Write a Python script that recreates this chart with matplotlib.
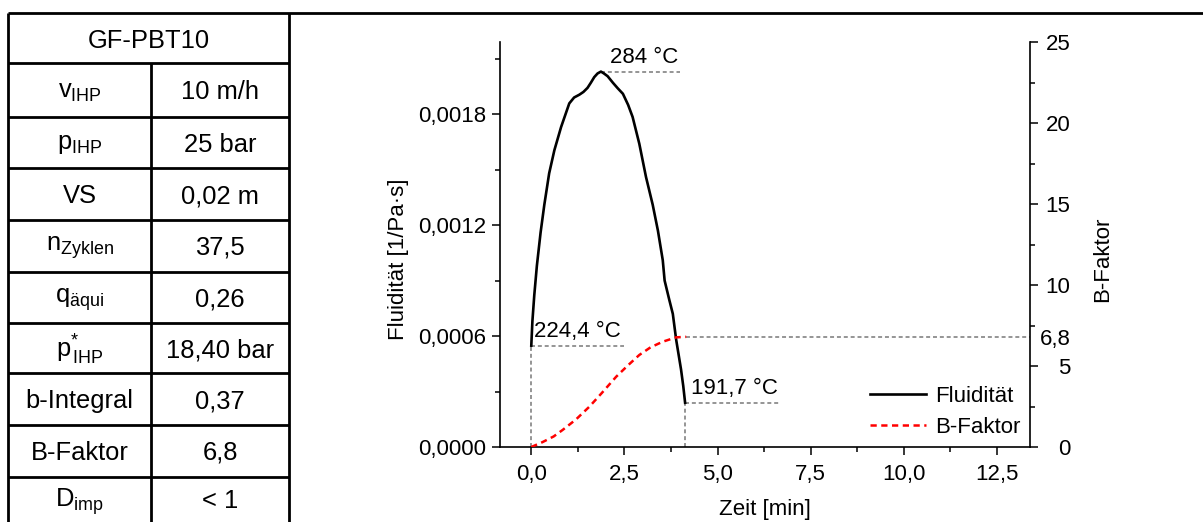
import matplotlib
matplotlib.use("Agg")
import matplotlib.pyplot as plt
from matplotlib.lines import Line2D
from matplotlib.ticker import MultipleLocator, FuncFormatter, FixedLocator

plt.rcParams["font.family"] = ["Liberation Sans", "DejaVu Sans"]
plt.rcParams["mathtext.fontset"] = "custom"
plt.rcParams["mathtext.rm"] = "Liberation Sans"
plt.rcParams["mathtext.it"] = "Liberation Sans"

# ---- process parameters (left table) ----
title = "GF-PBT10"
param_names = [r"v$_{\mathrm{IHP}}$", r"p$_{\mathrm{IHP}}$", "VS", r"n$_{\mathrm{Zyklen}}$",
               r"q$_{\mathrm{äqui}}$", r"p$^{*}_{\mathrm{\,IHP}}$", "b-Integral", "B-Faktor",
               r"D$_{\mathrm{imp}}$"]
param_values = ["10 m/h", "25 bar", "0,02 m", "37,5", "0,26", "18,40 bar", "0,37", "6,8", "< 1"]

# ---- fluidity over time ----
fluid_t = [0.0, 0.03, 0.08, 0.15, 0.25, 0.35, 0.48, 0.62, 0.80, 1.02, 1.15, 1.29, 1.40,
           1.51, 1.60, 1.69, 1.78, 1.87, 1.95, 2.05, 2.19, 2.32, 2.46, 2.60, 2.72, 2.90,
           3.08, 3.26, 3.40, 3.53, 3.58, 3.70, 3.80, 3.89, 4.02, 4.08, 4.13]
fluid_F = [0.000548, 0.00068, 0.00082, 0.00098, 0.00116, 0.00131, 0.00148, 0.001605,
           0.00173, 0.001858, 0.00189, 0.001905, 0.00192, 0.001942, 0.00197, 0.00200,
           0.00202, 0.00203, 0.00202, 0.002005, 0.00197, 0.00194, 0.00191, 0.00185,
           0.001785, 0.00164, 0.00146, 0.00131, 0.00117, 0.00101, 0.00090, 0.00080,
           0.00072, 0.00058, 0.00042, 0.00033, 0.000239]

# ---- B-Faktor over time ----
bfak_t = [0.0, 0.3, 0.6, 0.84, 1.2, 1.56, 1.9, 2.28, 2.6, 2.9, 3.2, 3.53, 3.89, 4.16]
bfak_B = [0.0, 0.3, 0.65, 1.05, 1.7, 2.49, 3.35, 4.34, 5.05, 5.68, 6.15, 6.5, 6.77, 6.8]

# temperatures at start, peak and end of the fluidity curve
temp_start = "224,4 °C"
temp_peak = "284 °C"
temp_end = "191,7 °C"
b_final_label = "6,8"

W, H = 1203, 522
fig = plt.figure(figsize=(W / 100, H / 100), dpi=100)


def fx(px):
    return px / W


def fy(py):
    return 1 - py / H


def hline(x0, x1, y, lw=2.0):
    fig.add_artist(Line2D([fx(x0), fx(x1)], [fy(y), fy(y)], color="black", lw=lw,
                          solid_capstyle="butt"))


def vline(x, y0, y1, lw=2.0):
    fig.add_artist(Line2D([fx(x), fx(x)], [fy(y0), fy(y1)], color="black", lw=lw,
                          solid_capstyle="butt"))


# ---- table frame ----
tab_left, tab_mid, tab_right = 8, 151, 289
row_y = [13, 63.3, 116.7, 168.3, 220, 271.7, 323.3, 373.3, 425, 476.7, 528]
hline(tab_left, W, row_y[0])
for y in row_y[1:-1]:
    hline(tab_left, tab_right, y)
vline(tab_left, row_y[0], H)
vline(tab_right, row_y[0], H)
vline(tab_mid, row_y[1], H)

tfs = 18.4
fig.text(fx((tab_left + tab_right) / 2), fy((row_y[0] + row_y[1]) / 2 + 2.5), title,
         ha="center", va="center", fontsize=tfs)
for i, (n, v) in enumerate(zip(param_names, param_values)):
    yc = (row_y[i + 1] + row_y[i + 2]) / 2 + 2
    if i == len(param_names) - 1:
        yc = (row_y[i + 1] + H) / 2 + 2
    fig.text(fx((tab_left + tab_mid) / 2), fy(yc), n, ha="center", va="center", fontsize=tfs)
    fig.text(fx((tab_mid + tab_right) / 2), fy(yc), v, ha="center", va="center", fontsize=tfs)

# ---- chart ----
fs = 16
ax_l, ax_r, ax_t, ax_b = 500, 1030, 42, 447
ax = fig.add_axes([fx(ax_l), fy(ax_b), (ax_r - ax_l) / W, (ax_b - ax_t) / H])
ax2 = ax.twinx()

ax.set_xlim(-0.84, 13.39)
ax.set_ylim(0, 0.00219)
ax2.set_ylim(0, 25)

gray = "#8c8c8c"
dash_gray = (0, (2.2, 1.6))
glw = 1.3

# fluidity curve
ax.plot(fluid_t, fluid_F, color="black", lw=1.9, label="Fluidität", zorder=3)
# B-Faktor curve
ax2.plot(bfak_t, bfak_B, color="red", lw=1.8, ls=(0, (2.5, 1.8)), label="B-Faktor", zorder=3)

# guide lines at start, peak and end
t0, F0 = fluid_t[0], fluid_F[0]
t1, F1 = fluid_t[-1], fluid_F[-1]
ip = fluid_F.index(max(fluid_F))
tp, Fp = fluid_t[ip], fluid_F[ip]
ax.plot([t0, t0], [0, F0], color=gray, lw=glw, ls=dash_gray)
ax.plot([t0, 2.5], [F0, F0], color=gray, lw=glw, ls=dash_gray)
ax.plot([t1, t1], [0, F1], color=gray, lw=glw, ls=dash_gray)
ax.plot([t1, 6.67], [F1, F1], color=gray, lw=glw, ls=dash_gray)
ax.plot([tp, 3.98], [Fp, Fp], color=gray, lw=glw, ls=dash_gray)
ax2.plot([bfak_t[-1], 13.39], [bfak_B[-1], bfak_B[-1]], color=gray, lw=glw, ls=dash_gray)

ax.text(2.12, Fp + 0.00002, temp_peak, ha="left", va="bottom", fontsize=fs)
ax.text(0.07, F0 + 0.00002, temp_start, ha="left", va="bottom", fontsize=fs)
ax.text(4.28, F1 + 0.00002, temp_end, ha="left", va="bottom", fontsize=fs)

# axes styling
for a in (ax, ax2):
    a.spines["top"].set_visible(False)
    for s in a.spines.values():
        s.set_linewidth(1.2)
ax.spines["right"].set_visible(False)
ax2.spines["left"].set_visible(False)
ax2.spines["bottom"].set_visible(False)

ax.xaxis.set_major_locator(MultipleLocator(2.5))
ax.xaxis.set_minor_locator(MultipleLocator(1.25))
ax.yaxis.set_major_locator(MultipleLocator(0.0006))
ax.yaxis.set_minor_locator(MultipleLocator(0.0003))
ax.xaxis.set_major_formatter(FuncFormatter(lambda v, p: f"{v:.1f}".replace(".", ",")))
ax.yaxis.set_major_formatter(FuncFormatter(lambda v, p: f"{v:.4f}".replace(".", ",")))

b_ticks = [0, 5, bfak_B[-1], 10, 15, 20, 25]
ax2.yaxis.set_major_locator(FixedLocator(b_ticks))
ax2.yaxis.set_minor_locator(FixedLocator([2.5, 7.5, 12.5, 17.5, 22.5]))
ax2.set_yticklabels(["0", "5", b_final_label, "10", "15", "20", "25"])
for tk, v in zip(ax2.yaxis.get_major_ticks(), b_ticks):
    if v == bfak_B[-1]:
        tk.tick2line.set_visible(False)

ax.tick_params(axis="both", which="major", direction="out", length=6, width=1.1,
               labelsize=fs, pad=4)
ax.tick_params(axis="both", which="minor", direction="out", length=3.5, width=1.1)
ax.tick_params(axis="x", pad=6)
ax2.tick_params(axis="y", which="major", direction="out", length=6, width=1.1,
                labelsize=fs, pad=23)
ax2.tick_params(axis="y", which="minor", direction="out", length=3.5, width=1.1)
for lb in ax2.get_yticklabels():
    lb.set_horizontalalignment("right")

ax.set_xlabel("Zeit [min]", fontsize=fs, labelpad=10)
ax.set_ylabel("Fluidität [1/Pa·s]", fontsize=fs)
ax.yaxis.set_label_coords(-0.172, 0.464)
ax2.set_ylabel("B-Faktor", fontsize=fs)
ax2.yaxis.set_label_coords(1.118, 0.464)

h1, l1 = ax.get_legend_handles_labels()
h2, l2 = ax2.get_legend_handles_labels()
ax.legend(h1 + h2, l1 + l2, loc="lower right", frameon=False, fontsize=fs,
          handlelength=2.5, handletextpad=0.4, labelspacing=0.45,
          bbox_to_anchor=(1.0 + 10 / 530, -11 / 405))

fig.savefig("out.png", dpi=100)
